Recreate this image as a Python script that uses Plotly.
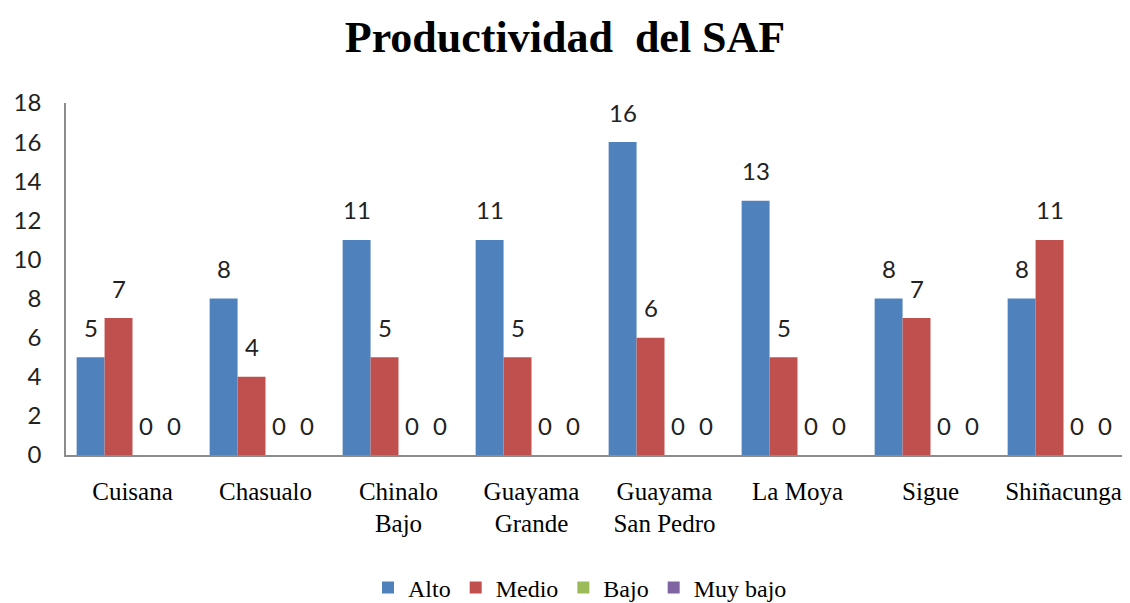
import plotly.graph_objects as go

categories = ["Cuisana", "Chasualo", "Chinalo<br>Bajo", "Guayama<br>Grande",
              "Guayama<br>San Pedro", "La Moya", "Sigue", "Shiñacunga"]
alto = [5, 8, 11, 11, 16, 13, 8, 8]
medio = [7, 4, 5, 5, 6, 5, 7, 11]
bajo = [0, 0, 0, 0, 0, 0, 0, 0]
muy_bajo = [0, 0, 0, 0, 0, 0, 0, 0]
series = [("Alto", alto, "#4F81BD"), ("Medio", medio, "#C0504D"),
          ("Bajo", bajo, "#9BBB59"), ("Muy bajo", muy_bajo, "#8064A2")]
yticks = list(range(0, 19, 2))

# page body has an 8px default margin, so the figure is laid out offset by 8px
W, H = 1122, 595
ML, MR, MT, MB = 58, 0, 95, 148
BARGAP = 0.16
group_px = (W - ML - MR) / len(categories)
bar_px = group_px * (1 - BARGAP) / len(series)
plot_h = H - MT - MB

fig = go.Figure()
annotations = []
for i, (name, vals, col) in enumerate(series):
    fig.add_trace(go.Bar(
        x=categories, y=vals, name=name, marker_color=col,
        marker_line_width=0,
    ))
    xshift = (i - (len(series) - 1) / 2) * bar_px
    for c, v in zip(categories, vals):
        annotations.append(dict(
            x=c, y=v, xref="x", yref="y", text=str(v), showarrow=False,
            xshift=xshift, yshift=30, yanchor="middle", xanchor="center",
            font=dict(family="Lato, Liberation Sans, sans-serif", size=24, color="#222"),
        ))

fig.update_layout(
    width=W, height=H,
    paper_bgcolor="white", plot_bgcolor="white",
    barmode="group", bargap=BARGAP, bargroupgap=0,
    margin=dict(l=ML, r=MR, t=MT, b=MB, autoexpand=False),
    title=dict(text="<b>Productividad  del SAF</b>", x=(565 - 8) / W, xanchor="center",
               y=1 - 29 / H, yanchor="middle",
               font=dict(family="Liberation Serif, Times New Roman, serif", size=44, color="#000")),
    showlegend=True,
    legend=dict(orientation="h", x=(580 - 8 - ML) / (W - ML - MR), xanchor="center",
                y=-133 / plot_h, yanchor="middle",
                font=dict(family="Liberation Serif, Times New Roman, serif", size=24, color="#000"),
                itemwidth=30, traceorder="normal"),
    annotations=annotations,
)
fig.update_xaxes(
    showline=True, linecolor="#8c8c8c", linewidth=1.5, showgrid=False,
    ticks="", ticklabelstandoff=13, automargin=False,
    tickfont=dict(family="Liberation Serif, Times New Roman, serif", size=25, color="#000"),
)
fig.update_yaxes(
    range=[0, 18], tickvals=yticks, showline=True, linecolor="#8c8c8c", linewidth=1.5,
    showgrid=False, zeroline=False, ticks="", ticklabelstandoff=18, automargin=False,
    tickfont=dict(family="Lato, Liberation Sans, sans-serif", size=24, color="#222"),
)
fig.write_html("out.html")
